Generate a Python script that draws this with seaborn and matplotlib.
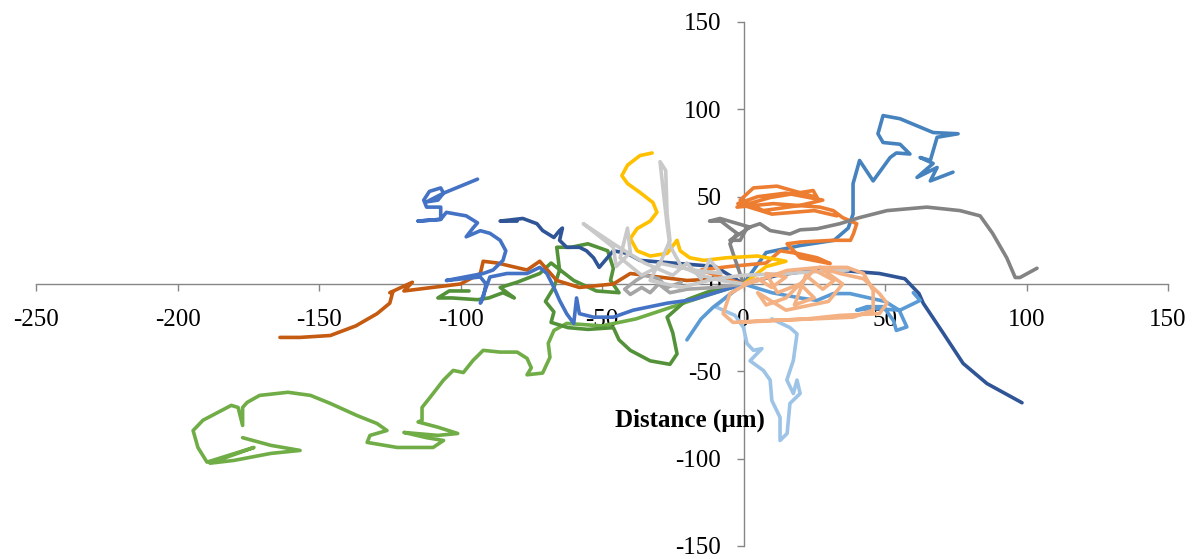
import matplotlib
matplotlib.use("Agg")
import matplotlib.pyplot as plt
import seaborn as sns
import numpy as np

# ---- data: cell trajectories (µm), each starting at the origin ----
track_dark_orange = [(0,0),(-8,3),(-20,2),(-30,4),(-40,6),(-46,0),(-58,-2),(-66,2),(-72,13),(-76.5,8),
    (-87,12),(-92,13),(-93,6),(-100,0),(-110,-2),(-120,-4),(-117,1),(-125,-5),(-124,-5),(-125,-11),
    (-129.5,-17),(-137,-24),(-146,-29.5),(-156.8,-30.6),(-163.8,-30.6)]
track_light_green = [(0,0),(-12,-6),(-25,-13),(-38,-20),(-50,-24),(-62.5,-22.6),(-67,-26.6),(-69,-34),
    (-68.4,-42),(-71,-51),(-76.5,-52),(-75,-48),(-76.5,-42.6),(-80,-39),(-86,-39),(-92,-38),(-95.6,-43.8),
    (-99,-50.7),(-102.6,-49.5),(-106,-55),(-110.8,-65),(-113.6,-70.7),(-113.6,-78),(-115,-79),(-108,-82),
    (-101,-85.6),(-108,-86.7),(-120,-85),(-112,-88),(-106,-89.6),(-109.7,-93.6),(-122.4,-93.6),(-133,-90.7),
    (-132,-86.7),(-126,-83.9),(-129.5,-79.9),(-136.6,-75.3),(-146,-68.4),(-153,-63.8),(-161,-62),
    (-171,-63.8),(-175.4,-67.8),(-177,-70.7),(-177,-81),(-178.6,-70.7),(-181,-69.5),(-191,-78),
    (-194.5,-83.9),(-192.8,-93.6),(-189.6,-102),(-173,-93.6),(-188.5,-102.6),(-180,-101),(-167,-97),
    (-156.7,-95.3),(-167,-92.4),(-177,-88)]
track_dark_green = [(0,0),(-10,-3),(-20,-9),(-27,-19),(-25,-28),(-23.5,-40),(-26,-46),(-33,-44),(-40,-38),
    (-44,-32),(-46,-25),(-55,-26),(-62,-25),(-68,-22),(-67,-16),(-70,-10),(-67,-2),(-65,8),(-66,21),
    (-61,21),(-55,23),(-48,19),(-46,9),(-47,2),(-44,-5),(-52,-4),(-60,2),(-68,12),(-72,6),(-80,1),
    (-86,-2),(-81,-8),(-85,-5),(-90,-8),(-94,-9),(-103,-8),(-108,-8),(-104,-4),(-97,-4)]
track_blue = [(0,0),(-18,-9),(-27,-11),(-39,-15),(-46,-19),(-53,-19),(-58,-17),(-59,-8),(-60,-22.6),
    (-62.5,-17),(-65,-9.4),(-67,-2),(-69.5,6),(-72,9.5),(-76.5,6),(-83.6,6),(-89.6,4),(-93,-11),(-92,-8),
    (-91,0),(-93,4),(-105,2),(-92,6),(-88.5,8),(-85,13.5),(-84,19),(-86,25),(-89.6,29),(-93,30.5),
    (-98,27),(-95.6,32),(-94,35),(-98,39),(-105,41),(-107,37),(-115,36),(-107,37),(-107,44),(-112,44),
    (-113,48),(-111,53),(-107,55),(-106,52),(-108,48),(-112,47),(-106,52),(-94,60)]
track_dark_blue_left = [(0,0),(-10,10),(-25,12),(-36.6,13.5),(-41,17.5),(-46,19),(-51,9.5),(-53,15),
    (-55.5,19),(-58,21),(-62.5,21),(-65,25),(-64,32),(-65,30.6),(-67,26.6),(-71,30.6),(-73,34.5),
    (-78,37.5),(-86,36),(-80,36)]
track_dark_blue_right = [(0,0),(12,5),(25,8),(35,7.7),(48,6),(57,3),(62,-5.5),(63.5,-11),(70.5,-28),
    (77.6,-45.5),(86,-57),(98.4,-68)]
track_steel_blue = [(0,0),(8,18),(20,22),(32,25),(37,32),(38.7,40),(38.7,57.4),(41,70.7),(45.8,59),
    (51.8,72.4),(54,75),(58.8,74.4),(55.3,80),(49.3,81),(47.5,86),(49.3,96.4),(55.3,94.6),(67,86.7),
    (75.8,86),(68.4,84),(66,70.7),(62.4,72.4),(67,69),(61.3,61),(68.4,66.7),(66,59),(74,64)]
track_orange = [(0,0),(-8,4),(-15,8),(-5,10),(8,12),(13,19),(19,17.5),(26,15),(30.6,11.7),(20,15),
    (15.4,23),(20,24),(31.7,25),(37.8,25),(38.9,29),(40,34.5),(35,38),(31.7,42),(27,44),(10.5,46),
    (-2.3,44),(9.4,49.5),(24.6,53.5),(26,49.5),(11.8,56),(3.5,55),(-1.2,48),(7,42),(20,45),(28,48),
    (15,52),(5,50),(-2,46),(10,40),(25,42),(33,39)]
track_gray = [(0,0),(-3.7,17.5),(-4.8,23),(-2.3,29),(-4.8,32),(-8,36),(-12,36),(-8.3,37.5),(2.3,32.5),
    (-4.8,25),(-1.2,25),(1.2,32),(5.8,34.5),(9.4,30.6),(16.4,28.6),(20,31),(26,31.6),(34,34.5),(41,38),
    (50.7,42),(64.8,44),(76.5,42),(83.6,39),(88,29),(93,15),(96,3.7),(97.7,3.7),(103.7,9)]
track_mid_gray = [(0,0),(-10,-2),(-20,-3),(-26,-5),(-30,0),(-33,-5),(-36,-2),(-40,-6),(-42,-3),(-38,2),
    (-35,5),(-30,3),(-27,-2),(-22,1)]
track_yellow = [(0,0),(8,10),(15,13),(5,16),(-6,15),(-14,13.5),(-19,15),(-22.4,19),(-23.5,25),(-27,17.5),
    (-33,16),(-37.6,19),(-40,26),(-37.6,31.7),(-33,36),(-30.6,41),(-32,46.6),(-36.6,52.4),(-41,57.5),
    (-43,62),(-41,68),(-36.6,73.5),(-32.3,75)]
track_light_blue = [(0,0),(-5,-6),(-10,-13),(-3,-18),(0,-25),(1.2,-34),(3.5,-38),(6.5,-37),(2.3,-44),
    (7,-49.5),(9.4,-55),(10,-66.7),(12.9,-76.4),(12.9,-89.6),(15.4,-85.6),(16.4,-68.4),(20,-62.7),
    (18.9,-55),(17.6,-62.7),(15.3,-55),(17.6,-43.8),(18.9,-28.6),(16.4,-25),(10,-20)]
track_mid_blue = [(0,0),(10,-5),(20,-8),(26,-9.4),(31.7,-5.5),(37.6,-5.5),(43.6,-7.7),(50,-10),(55,-15),
    (57.7,-24.6),(54,-26.6),(53,-21),(49.4,-13),(43.6,-13),(40,-15),(45,-14),(55.3,-15),(62.4,-9.4),(60,-5)]
track_mid_blue_short = [(0,0),(-10.8,-13.4),(-15,-20),(-20,-32)]
track_light_gray = [(0,0),(-8,2),(-15,5),(-22,10),(-26,22),(-27,34),(-28,48),(-29.5,70),(-27.5,65),
    (-27,40),(-26,25),(-30,10),(-36,5),(-43.6,15),(-41,32),(-40,18),(-45,10),(-46,21),(-56.6,34.5),
    (-45,22),(-35,12),(-25,5),(-20,12),(-15,3),(-12,14),(-8,6),(-18,8),(-30,12),(-33,2),(-22,-2),
    (-10,3),(0,5),(15,6),(25,7),(37,8)]
track_salmon = [(0,0),(5,3),(10,-2),(15,4),(8,6),(12,-5),(20,0),(25,-8),(18,-12),(22,5),(28,-3),(32,2),
    (25,8),(15,-8),(8,-12),(5,-5),(15,-15),(30,-10),(35,0),(27,9.5),(36.6,9.5),(42.4,6),(45.8,-3.7),
    (45.8,-15),(38.7,-19),(24.7,-20),(7,-21),(-3.7,-22),(-7.2,-17),(-4.8,-5.5),(1.2,0),(8.3,3.7),
    (15.3,7.7),(27,9.5),(34,6),(42.4,3),(48,-5.5),(50.7,-11),(48,-17),(34,-18),(22.4,-20),(10.5,-21),(-1.2,-22)]

x_ticks = [-250, -200, -150, -100, -50, 0, 50, 100, 150]
y_ticks = [-150, -100, -50, 0, 50, 100, 150]
axis_label = "Distance (µm)"

draw_order = [
    (track_light_green, "#70AD47"),
    (track_dark_green, "#54923A"),
    (track_dark_orange, "#C55A11"),
    (track_blue, "#4472C4"),
    (track_dark_blue_left, "#2F5597"),
    (track_dark_blue_right, "#2F5597"),
    (track_steel_blue, "#4683BE"),
    (track_orange, "#ED7D31"),
    (track_gray, "#838383"),
    (track_mid_gray, "#A5A5A5"),
    (track_yellow, "#FFC000"),
    (track_light_blue, "#9DC3E6"),
    (track_mid_blue, "#5B9BD5"),
    (track_mid_blue_short, "#5B9BD5"),
    (track_light_gray, "#C9C9C9"),
    (track_salmon, "#F4B183"),
]

sns.set_theme(style="white")
plt.rcParams['font.family'] = ['Liberation Serif', 'DejaVu Serif']

fig = plt.figure(figsize=(11.97, 5.59), dpi=100)
ax = fig.add_axes([0.0301, 0.0233, 0.9457, 0.9374])

for pts, col in draw_order:
    xs = [p[0] for p in pts]
    ys = [p[1] for p in pts]
    sns.lineplot(x=xs, y=ys, sort=False, estimator=None, color=col, linewidth=2.6,
                 ax=ax, solid_joinstyle='round', solid_capstyle='round')

ax.set_xlim(-250, 150)
ax.set_ylim(-150, 150)
ax.set_xticks(x_ticks)
ax.set_yticks(y_ticks)
ax.set_xticklabels([str(v) for v in x_ticks])
ax.set_yticklabels([str(v) for v in y_ticks])

for s in ['top', 'right']:
    ax.spines[s].set_visible(False)
ax.spines['left'].set_position(('data', 0))
ax.spines['bottom'].set_position(('data', 0))
for s in ['left', 'bottom']:
    ax.spines[s].set_color('#868686')
    ax.spines[s].set_linewidth(1.0)
    ax.spines[s].set_zorder(0.5)

ax.tick_params(axis='both', which='major', direction='out', length=5, width=1,
               color='#868686', labelsize=18, labelcolor='black',
               bottom=True, left=True)
ax.tick_params(axis='x', pad=13)
ax.tick_params(axis='y', pad=11)
ax.grid(False)
ax.set_facecolor('white')

ax.text(-19, -78, axis_label, ha='center', va='center', fontsize=18,
        fontweight='bold', color='black')

fig.savefig("out.png", dpi=100)
